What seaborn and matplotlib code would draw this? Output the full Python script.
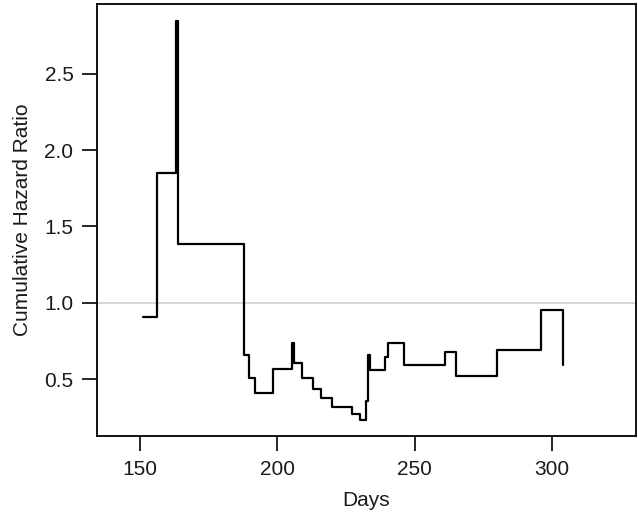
import matplotlib
matplotlib.use("Agg")
import matplotlib.pyplot as plt
import seaborn as sns
import pandas as pd

days = [151.1, 156.1, 163.1, 163.9, 188.0, 189.7, 191.9, 198.3, 205.2, 205.9,
        209.0, 212.9, 215.9, 220.0, 227.2, 230.0, 232.2, 232.9, 233.8, 239.1,
        240.2, 246.0, 261.0, 265.1, 280.1, 296.0, 304.1]
hazard_ratio = [0.906, 1.852, 2.848, 1.386, 0.655, 0.509, 0.411, 0.563, 0.734, 0.608,
                0.509, 0.438, 0.374, 0.320, 0.274, 0.235, 0.356, 0.655, 0.562, 0.644,
                0.736, 0.592, 0.677, 0.523, 0.688, 0.952, 0.59]
x_ticks = [150, 200, 250, 300]
y_ticks = [0.5, 1.0, 1.5, 2.0, 2.5]

sns.set_theme(style="white")
plt.rcParams['font.family'] = ['Liberation Sans', 'DejaVu Sans']

df = pd.DataFrame({"Days": days, "HR": hazard_ratio})

fig = plt.figure(figsize=(6.38, 5.23), dpi=100)
ax = fig.add_axes([97/638, 1 - 436/523, (636 - 97)/638, (436 - 4)/523])

ax.axhline(1.0, color="#cfcfcf", lw=1.2, zorder=1)
sns.lineplot(data=df, x="Days", y="HR", drawstyle="steps-post", color="black",
             lw=1.6, estimator=None, sort=False, ax=ax, zorder=2)

ax.set_xlim(134.3, 330.6)
ax.set_ylim(0.127, 2.958)
ax.set_xticks(x_ticks)
ax.set_xticklabels([str(t) for t in x_ticks])
ax.set_yticks(y_ticks)
ax.set_yticklabels([f"{t:.1f}" for t in y_ticks])

for s in ax.spines.values():
    s.set_visible(True)
    s.set_color("black")
    s.set_linewidth(1.3)

ax.tick_params(axis="both", which="major", direction="out", length=11, width=1.2,
               color="black", labelsize=15, pad=6, bottom=True, left=True,
               labelcolor="#1a1a1a")
ax.set_xlabel("Days", fontsize=15, labelpad=9, color="#1a1a1a")
ax.set_ylabel("Cumulative Hazard Ratio", fontsize=15, labelpad=9, color="#1a1a1a")

fig.savefig("out.png", dpi=100)
